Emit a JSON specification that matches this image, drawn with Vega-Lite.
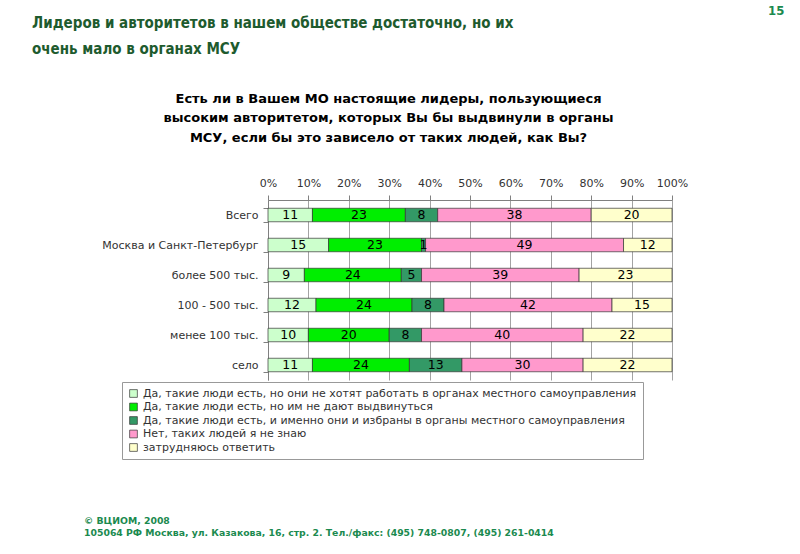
{
  "$schema": "https://vega.github.io/schema/vega-lite/v6.json",
  "background": "white",
  "padding": {"left": 32, "top": 5, "right": 0, "bottom": 0},
  "title": {
    "text": "15",
    "orient": "right",
    "anchor": "start",
    "frame": "bounds",
    "angle": 0,
    "align": "left",
    "baseline": "top",
    "offset": 64,
    "dy": -11,
    "font": "DejaVu Sans Condensed, DejaVu Sans",
    "fontSize": 13,
    "fontWeight": "bold",
    "color": "#1B8A4F"
  },
  "config": {
    "view": {"stroke": null},
    "font": "DejaVu Sans"
  },
  "vconcat": [
    {
      "title": {
        "text": ["© ВЦИОМ, 2008", "105064 РФ Москва, ул. Казакова, 16, стр. 2.  Тел./факс: (495) 748-0807, (495) 261-0414"],
        "orient": "bottom",
        "anchor": "start",
        "frame": "group",
        "dx": -184,
        "offset": 137,
        "font": "DejaVu Sans",
        "fontSize": 9.3,
        "fontWeight": "bold",
        "color": "#1B8A4F",
        "lineHeight": 12
      },
      "vconcat": [
        {
          "width": 404,
          "height": 180,
          "title": {
            "text": ["Лидеров и авторитетов в нашем обществе достаточно, но их", "очень мало в органах МСУ"],
            "anchor": "start",
            "frame": "group",
            "dx": -236,
            "offset": 35,
            "font": "DejaVu Sans Condensed, DejaVu Sans",
            "fontSize": 15,
            "fontWeight": "bold",
            "color": "#1E5B2E",
            "lineHeight": 26
          },
          "data": {
            "values": [
              {"g": "Всего", "a": "Да, такие люди есть, но они не хотят работать в органах местного самоуправления", "k": 1, "v": 11},
              {"g": "Всего", "a": "Да, такие люди есть, но им не дают выдвинуться", "k": 2, "v": 23},
              {"g": "Всего", "a": "Да, такие люди есть, и именно они и избраны в органы местного самоуправления", "k": 3, "v": 8},
              {"g": "Всего", "a": "Нет, таких людей я не знаю", "k": 4, "v": 38},
              {"g": "Всего", "a": "затрудняюсь ответить", "k": 5, "v": 20},
              {"g": "Москва и Санкт-Петербург", "a": "Да, такие люди есть, но они не хотят работать в органах местного самоуправления", "k": 1, "v": 15},
              {"g": "Москва и Санкт-Петербург", "a": "Да, такие люди есть, но им не дают выдвинуться", "k": 2, "v": 23},
              {"g": "Москва и Санкт-Петербург", "a": "Да, такие люди есть, и именно они и избраны в органы местного самоуправления", "k": 3, "v": 1},
              {"g": "Москва и Санкт-Петербург", "a": "Нет, таких людей я не знаю", "k": 4, "v": 49},
              {"g": "Москва и Санкт-Петербург", "a": "затрудняюсь ответить", "k": 5, "v": 12},
              {"g": "более 500 тыс.", "a": "Да, такие люди есть, но они не хотят работать в органах местного самоуправления", "k": 1, "v": 9},
              {"g": "более 500 тыс.", "a": "Да, такие люди есть, но им не дают выдвинуться", "k": 2, "v": 24},
              {"g": "более 500 тыс.", "a": "Да, такие люди есть, и именно они и избраны в органы местного самоуправления", "k": 3, "v": 5},
              {"g": "более 500 тыс.", "a": "Нет, таких людей я не знаю", "k": 4, "v": 39},
              {"g": "более 500 тыс.", "a": "затрудняюсь ответить", "k": 5, "v": 23},
              {"g": "100 - 500 тыс.", "a": "Да, такие люди есть, но они не хотят работать в органах местного самоуправления", "k": 1, "v": 12},
              {"g": "100 - 500 тыс.", "a": "Да, такие люди есть, но им не дают выдвинуться", "k": 2, "v": 24},
              {"g": "100 - 500 тыс.", "a": "Да, такие люди есть, и именно они и избраны в органы местного самоуправления", "k": 3, "v": 8},
              {"g": "100 - 500 тыс.", "a": "Нет, таких людей я не знаю", "k": 4, "v": 42},
              {"g": "100 - 500 тыс.", "a": "затрудняюсь ответить", "k": 5, "v": 15},
              {"g": "менее 100 тыс.", "a": "Да, такие люди есть, но они не хотят работать в органах местного самоуправления", "k": 1, "v": 10},
              {"g": "менее 100 тыс.", "a": "Да, такие люди есть, но им не дают выдвинуться", "k": 2, "v": 20},
              {"g": "менее 100 тыс.", "a": "Да, такие люди есть, и именно они и избраны в органы местного самоуправления", "k": 3, "v": 8},
              {"g": "менее 100 тыс.", "a": "Нет, таких людей я не знаю", "k": 4, "v": 40},
              {"g": "менее 100 тыс.", "a": "затрудняюсь ответить", "k": 5, "v": 22},
              {"g": "село", "a": "Да, такие люди есть, но они не хотят работать в органах местного самоуправления", "k": 1, "v": 11},
              {"g": "село", "a": "Да, такие люди есть, но им не дают выдвинуться", "k": 2, "v": 24},
              {"g": "село", "a": "Да, такие люди есть, и именно они и избраны в органы местного самоуправления", "k": 3, "v": 13},
              {"g": "село", "a": "Нет, таких людей я не знаю", "k": 4, "v": 30},
              {"g": "село", "a": "затрудняюсь ответить", "k": 5, "v": 22}
            ]
          },
          "encoding": {
            "y": {
              "field": "g",
              "type": "nominal",
              "sort": ["Всего", "Москва и Санкт-Петербург", "более 500 тыс.", "100 - 500 тыс.", "менее 100 тыс.", "село"],
              "scale": {"paddingInner": 0.55, "paddingOuter": 0.275},
              "axis": {
                "title": null,
                "tickBand": "extent",
                "tickSize": 5,
                "tickColor": "#808080",
                "domainColor": "#808080",
                "labelFontSize": 11,
                "labelColor": "#333333",
                "labelPadding": 5,
                "labelFont": "DejaVu Sans"
              }
            }
          },
          "layer": [
            {
              "mark": {"type": "bar", "stroke": "#333333", "strokeWidth": 0.7},
              "encoding": {
                "x": {
                  "field": "v",
                  "type": "quantitative",
                  "stack": "normalize",
                  "scale": {"domain": [0, 1], "nice": false},
                  "axis": {
                    "orient": "top",
                    "format": ".0%",
                    "values": [0, 0.1, 0.2, 0.3, 0.4, 0.5, 0.6, 0.7, 0.8, 0.9, 1],
                    "labelFlush": false,
                    "grid": true,
                    "gridColor": "#8c8c8c",
                    "gridWidth": 0.8,
                    "tickColor": "#808080",
                    "tickSize": 5,
                    "domainColor": "#808080",
                    "labelFontSize": 11,
                    "labelColor": "#333333",
                    "labelPadding": 7,
                    "labelFont": "DejaVu Sans",
                    "title": ["Есть ли в Вашем МО настоящие лидеры, пользующиеся", "высоким авторитетом, которых Вы бы выдвинули в органы", "МСУ, если бы это зависело от таких людей, как Вы?"],
                    "titleFont": "DejaVu Sans",
                    "titleFontSize": 13,
                    "titleFontWeight": "bold",
                    "titleColor": "#000000",
                    "titleLineHeight": 19.5,
                    "titlePadding": 33,
                    "titleX": 120
                  }
                },
                "color": {
                  "field": "a",
                  "type": "nominal",
                  "sort": ["Да, такие люди есть, но они не хотят работать в органах местного самоуправления", "Да, такие люди есть, но им не дают выдвинуться", "Да, такие люди есть, и именно они и избраны в органы местного самоуправления", "Нет, таких людей я не знаю", "затрудняюсь ответить"],
                  "scale": {
                    "domain": ["Да, такие люди есть, но они не хотят работать в органах местного самоуправления", "Да, такие люди есть, но им не дают выдвинуться", "Да, такие люди есть, и именно они и избраны в органы местного самоуправления", "Нет, таких людей я не знаю", "затрудняюсь ответить"],
                    "range": ["#CCFFCC", "#00EE00", "#339966", "#FF99CC", "#FFFFCC"]
                  },
                  "legend": {
                    "title": null,
                    "orient": "none",
                    "legendX": -146,
                    "legendY": 182,
                    "direction": "vertical",
                    "strokeColor": "#999999",
                    "padding": 6,
                    "symbolType": "square",
                    "symbolSize": 60,
                    "symbolStrokeColor": "#333333",
                    "symbolStrokeWidth": 0.7,
                    "labelFontSize": 11,
                    "labelColor": "#333333",
                    "labelFont": "DejaVu Sans",
                    "labelLimit": 700,
                    "rowPadding": 1.5
                  }
                },
                "order": {"field": "k"}
              }
            },
            {
              "mark": {"type": "text", "fontSize": 12.5, "color": "#000000", "font": "DejaVu Sans"},
              "encoding": {
                "x": {"field": "v", "type": "quantitative", "stack": "normalize", "bandPosition": 0.5},
                "detail": {"field": "a"},
                "order": {"field": "k"},
                "text": {"field": "v", "type": "quantitative"}
              }
            }
          ]
        }
      ]
    }
  ]
}
